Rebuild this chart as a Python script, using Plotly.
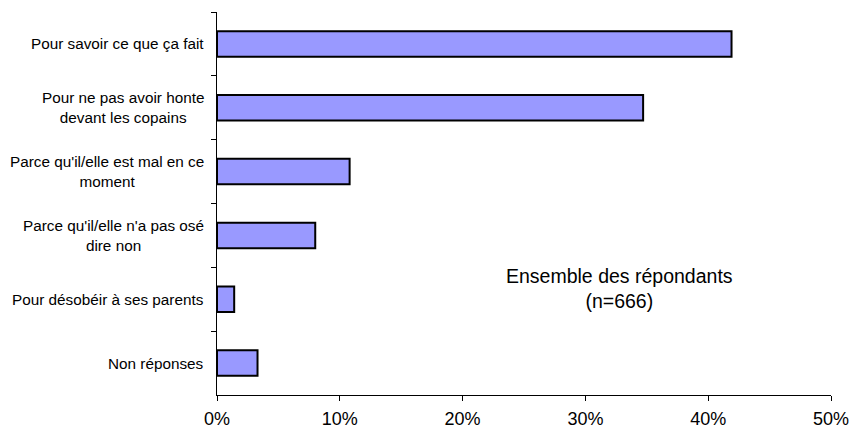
import plotly.graph_objects as go

# Reasons given by respondents (share of respondents, %)
categories = [
    "Pour savoir ce que ça fait",
    "Pour ne pas avoir honte<br>devant les copains",
    "Parce qu'il/elle est mal en ce<br>moment",
    "Parce qu'il/elle n'a pas osé<br>dire non",
    "Pour désobéir à ses parents",
    "Non réponses",
]
values = [41.9, 34.7, 10.8, 8.0, 1.4, 3.3]
x_ticks = [0, 10, 20, 30, 40, 50]
x_tick_labels = ["0%", "10%", "20%", "30%", "40%", "50%"]
note_text = "Ensemble des répondants<br>(n=666)"

FONT = "Liberation Sans, Arial, sans-serif"

fig = go.Figure(
    go.Bar(
        x=values,
        y=categories,
        orientation="h",
        width=0.4,
        marker=dict(color="#9999FF", line=dict(color="#000000", width=2)),
        hoverinfo="x+y",
    )
)

# Category labels as centred multi-line text to the left of the axis
for cat in categories:
    fig.add_annotation(
        x=0, xref="paper", y=cat, yref="y",
        text=cat, showarrow=False, xanchor="right", yanchor="middle",
        align="center", xshift=-11,
        font=dict(family=FONT, size=15.3, color="#000000"),
    )

fig.add_annotation(
    x=32.8, xref="x", y=0.279, yref="paper",
    text=note_text, showarrow=False, xanchor="center", yanchor="middle",
    align="center",
    font=dict(family=FONT, size=19.5, color="#000000"),
)

fig.update_layout(
    width=851, height=432,
    margin=dict(l=217, r=20, t=12, b=37),
    paper_bgcolor="#FFFFFF", plot_bgcolor="#FFFFFF",
    showlegend=False,
    bargap=0.6,
    font=dict(family=FONT, color="#000000"),
    xaxis=dict(
        range=[0, 50],
        tickvals=x_ticks, ticktext=x_tick_labels,
        ticks="outside", ticklen=5, tickcolor="#000000", tickwidth=1,
        ticklabelstandoff=2,
        automargin=False,
        showline=True, linecolor="#000000", linewidth=1,
        showgrid=False, zeroline=False,
        tickfont=dict(family=FONT, size=18, color="#000000"),
    ),
    yaxis=dict(
        autorange="reversed",
        type="category",
        tickson="boundaries",
        ticks="outside", ticklen=5, tickcolor="#000000", tickwidth=1,
        showticklabels=False,
        automargin=False,
        showline=True, linecolor="#000000", linewidth=1,
        showgrid=False, zeroline=False,
    ),
)

fig.write_html("out.html")
